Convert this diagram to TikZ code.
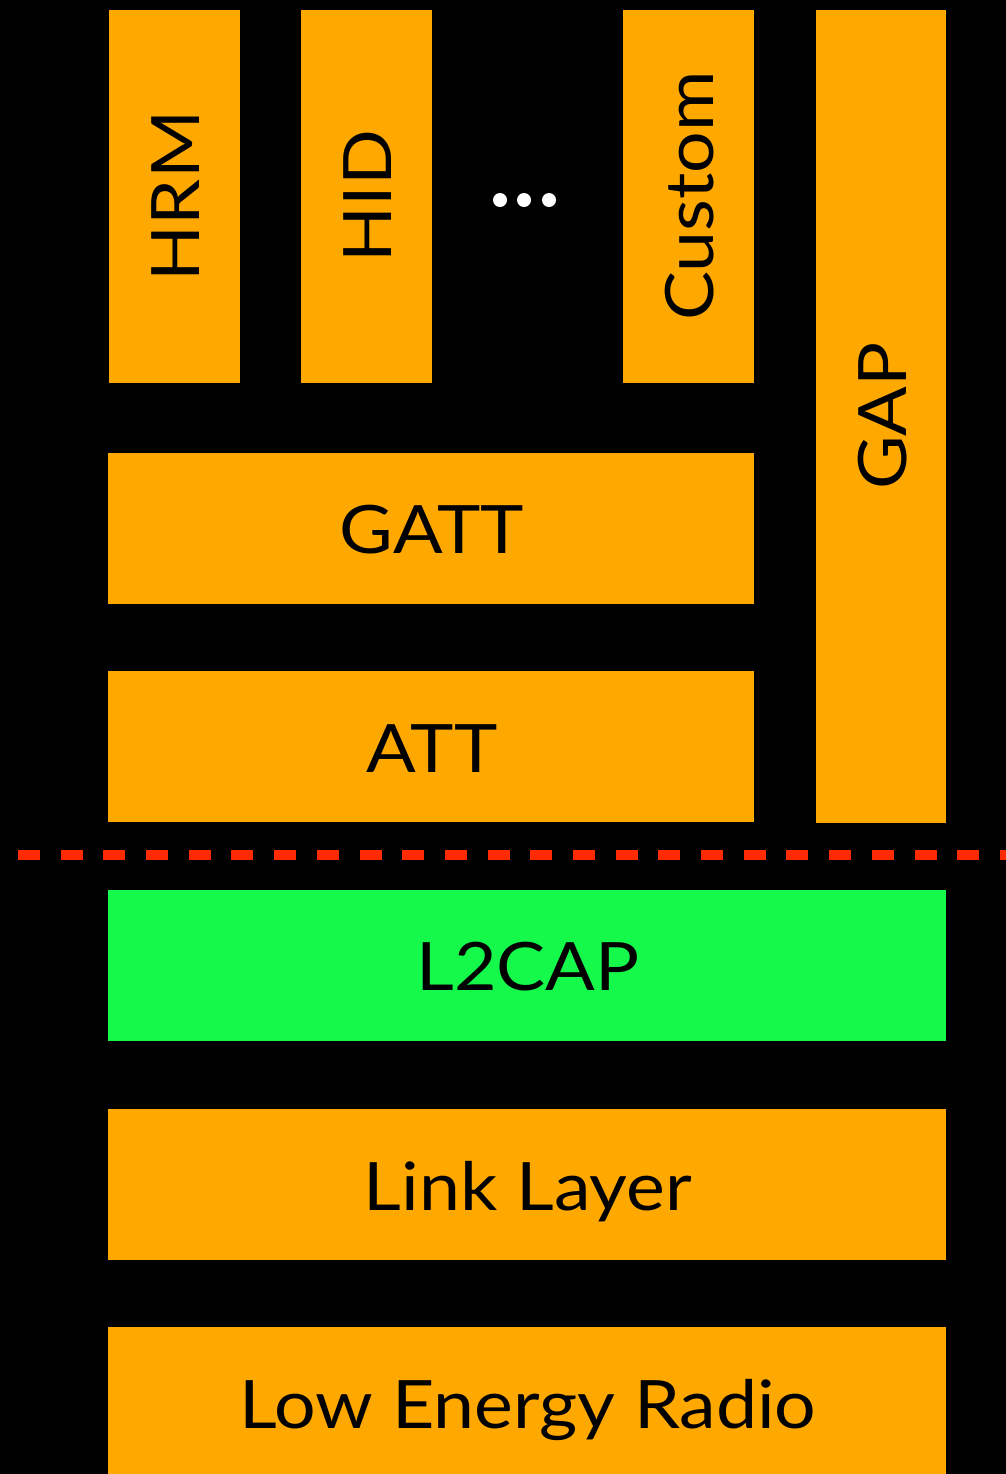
\documentclass[tikz,border=0pt]{standalone}
\usepackage{fontspec}
\setmainfont[FakeStretch=1.1]{Lato}
\definecolor{layerorange}{HTML}{FFA800}
\definecolor{layergreen}{HTML}{14F94A}
\definecolor{dashred}{HTML}{FF2A00}
\begin{document}
\begin{tikzpicture}[x=0.02cm,y=-0.02cm,
  layer/.style={fill=layerorange,draw=none},
  lbl/.style={font=\fontsize{38}{40}\selectfont,text=black,inner sep=0pt,text height=0.72em,text depth=0pt}]
\fill[black] (0,0) rectangle (1006,1474);
\useasboundingbox (0,0) rectangle (1006,1474);
% boxes
\fill[layer] (109,10) rectangle (240,383);
\fill[layer] (301,10) rectangle (432,383);
\fill[layer] (623,10) rectangle (754,383);
\fill[layer] (816,10) rectangle (946,823);
\fill[layer] (108,453) rectangle (754,604);
\fill[layer] (108,671) rectangle (754,822);
\fill[layergreen] (108,890) rectangle (946,1041);
\fill[layer] (108,1109) rectangle (946,1260);
\fill[layer] (108,1327) rectangle (946,1474);
% labels
\node[lbl,rotate=90] (hrm) at (193,196) {HRM};
\node[lbl,rotate=90] (hid) at (385,196) {HID};
\node[lbl,rotate=90] (custom) at (707,196) {Custom};
\node[lbl,rotate=90] (gap) at (900,416) {GAP};
\node[lbl] (gatt) at (432,547) {GATT};
\node[lbl] (att) at (432,766) {ATT};
\node[lbl] (l2cap) at (528,984) {L2CAP};
\node[lbl] (link) at (528,1204) {Link Layer};
\node[lbl] (radio) at (528,1422) {Low Energy Radio};
% dots
\foreach \xx in {500,524,549} \fill[white] (\xx,200) circle (7);
% dashed line
\coordinate (dl) at (18,855);
\coordinate (dr) at (1006,855);
\draw[dashred,line width=10*0.02cm,dash pattern=on 0.44cm off 0.414cm] (dl) -- (dr);
\end{tikzpicture}
\end{document}
